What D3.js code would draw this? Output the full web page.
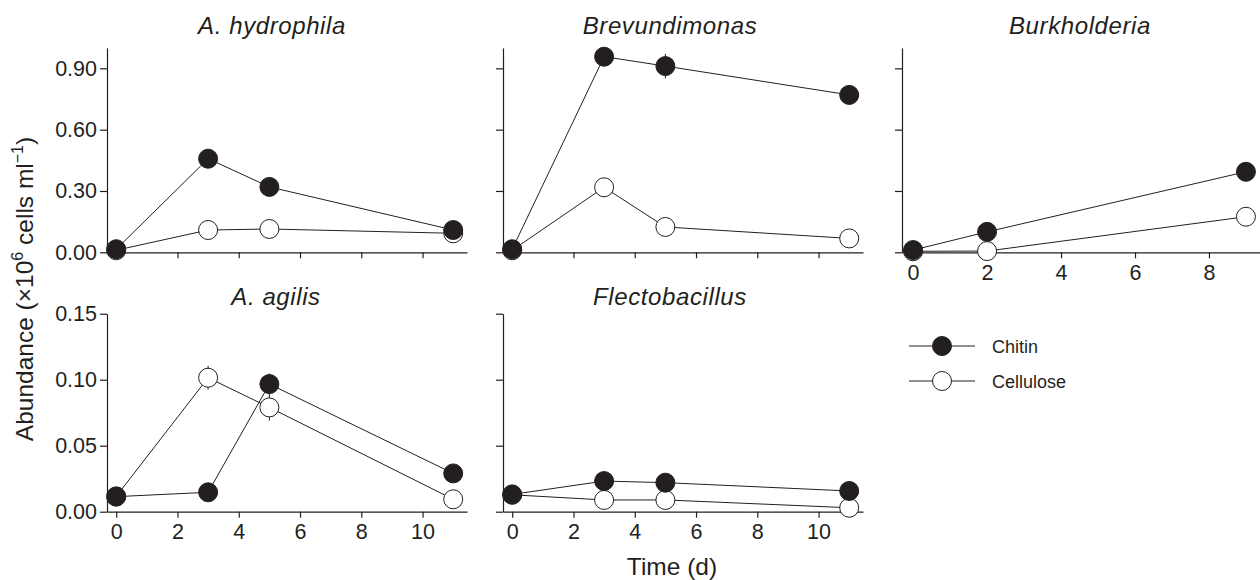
<!DOCTYPE html>
<html>
<head>
<meta charset="utf-8">
<script src="https://cdn.jsdelivr.net/npm/d3@7"></script>
<style>
  body { margin: 0; background: #fff; }
  svg { font-family: 'Liberation Sans', Arial, Helvetica, sans-serif; }
  .axis path, .axis line { stroke: #231f20; stroke-width: 1.2; }
  .axis text { font-size: 21.5px; fill: #231f20; }
</style>
</head>
<body>
<svg id="chart" width="1260" height="580"></svg>
<script>
// sampling days
const days = [0, 3, 5, 11]
const burkholderiaDays = [0, 2, 9]

// abundance, x10^6 cells ml-1
const hydrophilaChitin = [0.015, 0.458, 0.32, 0.109]
const hydrophilaCellulose = [0.01, 0.109, 0.114, 0.093]
const brevundimonasChitin = [0.015, 0.957, 0.911, 0.77]
const brevundimonasCellulose = [0.01, 0.318, 0.124, 0.068]
const burkholderiaChitin = [0.011, 0.10, 0.394]
const burkholderiaCellulose = [0.005, 0.006, 0.174]
const agilisChitin = [0.0114, 0.0147, 0.0967, 0.029]
const agilisCellulose = [0.0116, 0.1015, 0.079, 0.0094]
const flectobacillusChitin = [0.0131, 0.0232, 0.022, 0.0157]
const flectobacillusCellulose = [0.0128, 0.0089, 0.0089, 0.003]

// error bars (only the ones that show past the symbols)
const brevundimonasChitinErr = [0, 0, 0.06, 0]
const agilisChitinErr = [0, 0, 0.008, 0]
const agilisCelluloseErr = [0, 0.009, 0.01, 0]

// ticks
const topYTicks = [0, 0.3, 0.6, 0.9]
const bottomYTicks = [0, 0.05, 0.1, 0.15]
const xTicks = [0, 2, 4, 6, 8, 10]
const burkholderiaXTicks = [0, 2, 4, 6, 8]

const seriesNames = ['Chitin', 'Cellulose']
const ink = '#231f20'
const zeros = (n) => new Array(n).fill(0)

// one entry per small plot
const panels = [
  { title: 'A. hydrophila', x: days, chitin: hydrophilaChitin, cellulose: hydrophilaCellulose,
    chitinErr: zeros(4), celluloseErr: zeros(4), left: 107, top: 47.9, bottom: 252.3, width: 360,
    xDomain: [-0.3, 11.45], yDomain: [0, 1.0], yTicks: topYTicks, xTicks: xTicks,
    yLabels: true, xLabels: false, titleX: 272, titleY: 34 },
  { title: 'Brevundimonas', x: days, chitin: brevundimonasChitin, cellulose: brevundimonasCellulose,
    chitinErr: brevundimonasChitinErr, celluloseErr: zeros(4), left: 503, top: 47.9, bottom: 252.3, width: 360,
    xDomain: [-0.3, 11.45], yDomain: [0, 1.0], yTicks: topYTicks, xTicks: xTicks,
    yLabels: false, xLabels: false, titleX: 670, titleY: 34 },
  { title: 'Burkholderia', x: burkholderiaDays, chitin: burkholderiaChitin, cellulose: burkholderiaCellulose,
    chitinErr: zeros(3), celluloseErr: zeros(3), left: 902, top: 47.9, bottom: 252.3, width: 358,
    xDomain: [-0.3, 9.38], yDomain: [0, 1.0], yTicks: topYTicks, xTicks: burkholderiaXTicks,
    yLabels: false, xLabels: true, titleX: 1080, titleY: 34 },
  { title: 'A. agilis', x: days, chitin: agilisChitin, cellulose: agilisCellulose,
    chitinErr: agilisChitinErr, celluloseErr: agilisCelluloseErr, left: 107, top: 313.7, bottom: 511.7, width: 360,
    xDomain: [-0.3, 11.45], yDomain: [0, 0.15], yTicks: bottomYTicks, xTicks: xTicks,
    yLabels: true, xLabels: true, titleX: 276, titleY: 305 },
  { title: 'Flectobacillus', x: days, chitin: flectobacillusChitin, cellulose: flectobacillusCellulose,
    chitinErr: zeros(4), celluloseErr: zeros(4), left: 503, top: 313.7, bottom: 511.7, width: 360,
    xDomain: [-0.3, 11.45], yDomain: [0, 0.15], yTicks: bottomYTicks, xTicks: xTicks,
    yLabels: false, xLabels: true, titleX: 670, titleY: 305 }
]

const svg = d3.select('#chart')

/**
 * Draws the axes, the two series and the title of one small plot.
 *
 * @param {object} p The panel to draw
 */
function drawPanel (p) {
  const x = d3.scaleLinear().domain(p.xDomain).range([p.left, p.left + p.width])
  const y = d3.scaleLinear().domain(p.yDomain).range([p.bottom, p.top])
  const g = svg.append('g').attr('class', 'panel')

  const yAxis = d3.axisLeft(y).tickValues(p.yTicks).tickSize(7).tickSizeOuter(0).tickPadding(3)
    .tickFormat(p.yLabels ? d3.format('.2f') : '')
  g.append('g').attr('class', 'axis').attr('transform', 'translate(' + p.left + ',0)').call(yAxis)

  const xAxis = d3.axisBottom(x).tickValues(p.xTicks).tickSize(6).tickSizeOuter(0).tickPadding(6)
    .tickFormat(p.xLabels ? d3.format('d') : '')
  g.append('g').attr('class', 'axis').attr('transform', 'translate(0,' + p.bottom + ')').call(xAxis)

  g.append('text')
    .attr('x', p.titleX)
    .attr('y', p.titleY)
    .attr('text-anchor', 'middle')
    .attr('font-size', 24)
    .attr('font-style', 'italic')
    .attr('letter-spacing', 0.6)
    .attr('fill', ink)
    .text(p.title)

  // cellulose first so chitin sits on top
  const series = [
    { name: 'Cellulose', values: p.cellulose, err: p.celluloseErr, fill: '#fff' },
    { name: 'Chitin', values: p.chitin, err: p.chitinErr, fill: ink }
  ]
  series.forEach((s) => {
    const pts = p.x.map((d, i) => ({ day: d, v: s.values[i], e: s.err[i] }))
    const sg = g.append('g').attr('class', 'series')
    sg.selectAll('line.err')
      .data(pts.filter((d) => d.e > 0))
      .join('line')
      .attr('class', 'err')
      .attr('x1', (d) => x(d.day))
      .attr('x2', (d) => x(d.day))
      .attr('y1', (d) => y(d.v - d.e))
      .attr('y2', (d) => y(d.v + d.e))
      .attr('stroke', ink)
      .attr('stroke-width', 1)
    sg.append('path')
      .datum(pts)
      .attr('fill', 'none')
      .attr('stroke', ink)
      .attr('stroke-width', 1)
      .attr('d', d3.line().x((d) => x(d.day)).y((d) => y(d.v)))
    sg.selectAll('circle')
      .data(pts)
      .join('circle')
      .attr('cx', (d) => x(d.day))
      .attr('cy', (d) => y(d.v))
      .attr('r', 9.5)
      .attr('fill', s.fill)
      .attr('stroke', ink)
      .attr('stroke-width', 1)
  })
}

panels.forEach(drawPanel)

// shared axis titles
svg.append('text')
  .attr('transform', 'translate(33,289) rotate(-90)')
  .attr('text-anchor', 'middle')
  .attr('font-size', 24.5)
  .attr('fill', ink)
  .call((t) => {
    t.append('tspan').text('Abundance (×10')
    t.append('tspan').attr('dy', -10).attr('font-size', 16).text('6')
    t.append('tspan').attr('dy', 10).text(' cells ml')
    t.append('tspan').attr('dy', -10).attr('font-size', 16).text('−1')
    t.append('tspan').attr('dy', 10).text(')')
  })

svg.append('text')
  .attr('x', 672)
  .attr('y', 575)
  .attr('text-anchor', 'middle')
  .attr('font-size', 24.5)
  .attr('fill', ink)
  .text('Time (d)')

// legend
const legend = svg.append('g')
  .selectAll('g')
  .data(seriesNames)
  .join('g')
  .attr('transform', (d, i) => 'translate(0,' + (346 + i * 35) + ')')
legend.append('line')
  .attr('x1', 909).attr('x2', 975)
  .attr('stroke', ink).attr('stroke-width', 1)
legend.append('circle')
  .attr('cx', 942).attr('r', 9.5)
  .attr('fill', (d) => d === 'Chitin' ? ink : '#fff')
  .attr('stroke', ink)
legend.append('text')
  .attr('x', 992).attr('y', 6.5)
  .attr('font-size', 18)
  .attr('fill', ink)
  .text((d) => d)
</script>
</body>
</html>
